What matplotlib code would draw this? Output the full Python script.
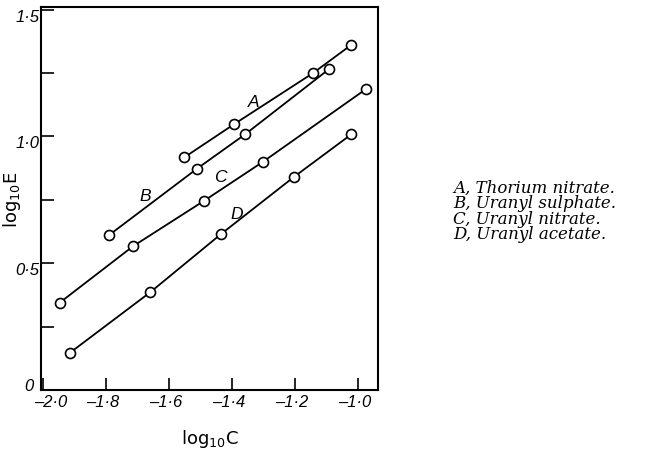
import matplotlib
matplotlib.use("Agg")
import matplotlib.pyplot as plt
from matplotlib.transforms import ScaledTranslation

# Data (log10 C, log10 E)
a_x = [-1.552, -1.394, -1.143, -1.022]
a_y = [0.917, 1.048, 1.250, 1.361]
b_x = [-1.790, -1.511, -1.359, -1.092]
b_y = [0.611, 0.873, 1.008, 1.266]
c_x = [-1.946, -1.714, -1.489, -1.302, -0.975]
c_y = [0.345, 0.567, 0.746, 0.900, 1.187]
d_x = [-1.914, -1.660, -1.435, -1.203, -1.022]
d_y = [0.147, 0.385, 0.615, 0.841, 1.008]

curve_letters = ["A", "B", "C", "D"]
letter_pos_x = [-1.333, -1.676, -1.438, -1.384]
letter_pos_y = [1.139, 0.766, 0.841, 0.698]
legend_lines = ["A, Thorium nitrate.", "B, Uranyl sulphate.",
                "C, Uranyl nitrate.", "D, Uranyl acetate."]

x_ticks = [-2.0, -1.8, -1.6, -1.4, -1.2, -1.0]
x_ticklabels = ["–2·0", "–1·8", "–1·6", "–1·4", "–1·2", "–1·0"]
y_major = [0.0, 0.5, 1.0, 1.5]
y_ticklabels = ["0", "0·5", "1·0", "1·5"]
y_minor = [0.25, 0.75, 1.25]

fig = plt.figure(figsize=(6.45, 4.52), dpi=100)
ax = fig.add_axes([0.0636, 0.135, 0.5225, 0.847])

for xs, ys in [(a_x, a_y), (b_x, b_y), (c_x, c_y), (d_x, d_y)]:
    ax.plot(xs, ys, color="black", lw=1.3, marker="o", ms=7.2,
            mfc="white", mec="black", mew=1.2, zorder=3)

hand = dict(family="Liberation Sans", style="italic")
for t, x, y in zip(curve_letters, letter_pos_x, letter_pos_y):
    ax.text(x, y, t, fontsize=12.5, ha="center", va="center", **hand)

ax.set_xlim(-2.006, -0.937)
ax.set_ylim(0.0, 1.51)
ax.set_xticks(x_ticks)
ax.set_xticklabels(x_ticklabels, fontsize=12, **hand)
ax.set_yticks(y_major)
ax.set_yticklabels(y_ticklabels, fontsize=12, **hand)
ax.set_yticks(y_minor, minor=True)
ax.tick_params(axis="both", which="both", direction="in", length=9, width=1.2)
ax.tick_params(axis="x", pad=3)
ax.tick_params(axis="y", pad=1)
for s in ax.spines.values():
    s.set_linewidth(1.5)

# small hand-placed offsets of the tick labels, as in the drawing
for lab in ax.get_yticklabels():
    if lab.get_text() == "0":
        off = ScaledTranslation(-6 / 100, 6 / 100, fig.dpi_scale_trans)
    else:
        off = ScaledTranslation(0, -5 / 100, fig.dpi_scale_trans)
    lab.set_transform(lab.get_transform() + off)
for lab in ax.get_xticklabels():
    if lab.get_text() == "–2·0":
        off = ScaledTranslation(8 / 100, 0, fig.dpi_scale_trans)
    else:
        off = ScaledTranslation(-3 / 100, 0, fig.dpi_scale_trans)
    lab.set_transform(lab.get_transform() + off)

ax.set_xlabel(r"log$_{10}$C", fontsize=13, family="DejaVu Sans", va="center")
ax.xaxis.set_label_coords(0.50, -0.125)
ax.set_ylabel(r"log$_{10}$E", fontsize=13, family="DejaVu Sans", va="center")
ax.yaxis.set_label_coords(-0.085, 0.50)

fig.text(453 / 645, 1 - 180 / 452, "\n".join(legend_lines), fontsize=12,
         family="DejaVu Serif", style="italic", va="top", ha="left",
         linespacing=0.87)

fig.savefig("out.png", dpi=100)
